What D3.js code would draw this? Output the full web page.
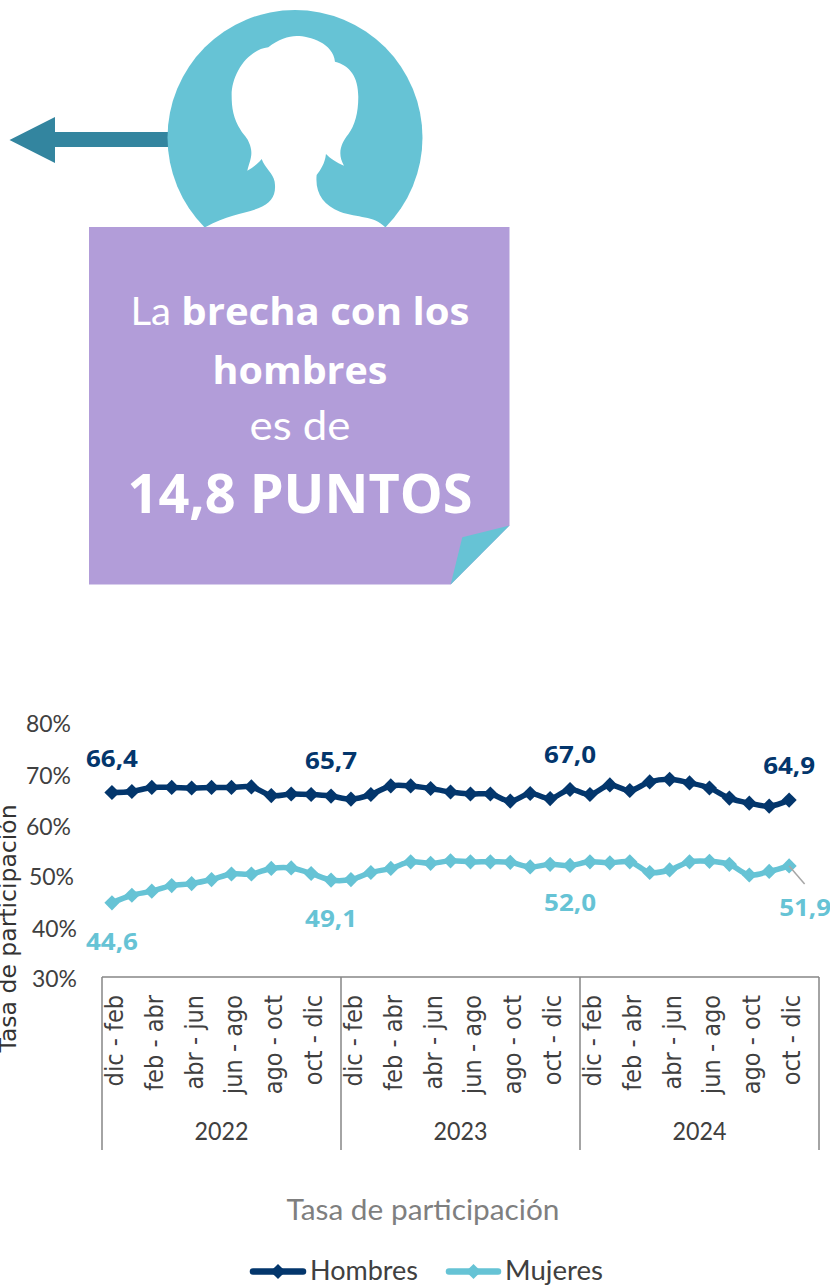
<!DOCTYPE html>
<html>
<head>
<meta charset="utf-8">
<script src="https://d3js.org/d3.v7.min.js"></script>
<style>
body { margin: 0; background: #fff; }
svg { display: block; }
text { font-family: Lato, sans-serif; }
</style>
</head>
<body>
<svg id="chart" width="830" height="1285"></svg>
<script>
var hombres = [66.4, 66.6, 67.4, 67.4, 67.3, 67.4, 67.4, 67.5, 65.8, 66.1, 66.0, 65.7, 65.1, 66.0, 67.7, 67.7, 67.2, 66.5, 66.1, 66.1, 64.7, 66.2, 65.2, 67.0, 66.0, 67.9, 66.8, 68.5, 69.0, 68.3, 67.3, 65.3, 64.3, 63.7, 64.9];
var mujeres = [44.6, 46.1, 46.9, 48.0, 48.4, 49.2, 50.3, 50.3, 51.4, 51.5, 50.4, 49.1, 49.2, 50.6, 51.4, 52.7, 52.4, 52.9, 52.7, 52.7, 52.6, 51.7, 52.2, 52.0, 52.7, 52.5, 52.7, 50.6, 51.1, 52.7, 52.8, 52.2, 50.1, 50.8, 51.9];
var periodos = ["dic - feb", "feb - abr", "abr - jun", "jun - ago", "ago - oct", "oct - dic"];
var years = ["2022", "2023", "2024"];
var yTicks = [30, 40, 50, 60, 70, 80];
var labelIdx = [0, 11, 23, 34];

var azul = "#03366c", celeste = "#66c3d5", gris = "#404040";

var svg = d3.select("#chart");

// ---- infografia de arriba ----
var info = svg.append("g");

info.append("path")
	.attr("fill", "#33859f")
	.attr("d", "M9.5,140 L55,117 L55,132 L172,132 L172,147 L55,147 L55,163 Z");

svg.append("clipPath").attr("id", "corte")
	.append("rect")
	.attr("x", 150).attr("y", 0)
	.attr("width", 300).attr("height", 227);
info.append("circle")
	.attr("cx", 295).attr("cy", 137.5).attr("r", 127.5)
	.attr("fill", celeste)
	.attr("clip-path", "url(#corte)");

// silueta, trazada sobre la imagen a 3x
info.append("path")
	.attr("transform", "scale(0.3333)")
	.attr("fill", "#fff")
	.attr("d", "M617,681 C680,645 730,642 775,625 C815,608 830,585 824,545 C820,520 795,505 785,477 C772,493 758,503 742,512 C750,480 760,465 750,435 C742,410 730,405 722,390 C700,355 695,325 695,285 C695,225 740,150 805,142 C835,118 865,108 890,108 C930,108 1000,130 1005,185 C1050,197 1075,230 1075,290 C1075,340 1065,375 1045,403 C1025,428 1010,460 1032,497 C1010,488 990,475 978,462 C975,490 962,510 950,525 C945,580 970,615 1020,635 C1075,655 1120,645 1155,681 Z");

info.append("path")
	.attr("fill", "#b29dd9")
	.attr("d", "M89,227 L509.5,227 L509.5,525.5 L450.7,584.5 L89,584.5 Z");
info.append("path")
	.attr("fill", celeste)
	.attr("d", "M509.5,525.5 L462.3,537.3 L450.7,584.5 Z");

function noteLine(y, size, length, parts) {
	var t = info.append("text")
		.attr("x", 300)
		.attr("y", y)
		.attr("text-anchor", "middle")
		.attr("font-size", size)
		.attr("fill", "#fff")
		.attr("textLength", length)
		.attr("lengthAdjust", "spacingAndGlyphs");
	parts.forEach(function(p) {
		t.append("tspan")
			.attr("font-weight", p[1])
			.style("font-family", p[1] == 700 ? "Open Sans" : "Lato")
			.text(p[0]);
	});
}
noteLine(325, 38, 339, [["La ", 400], ["brecha con los", 700]]);
noteLine(384, 38, 175, [["hombres", 700]]);
noteLine(440, 40, 101, [["es de", 400]]);
noteLine(513, 53, 345, [["14,8 PUNTOS", 700]]);

// ---- grafico ----
var x = d3.scaleLinear().domain([-0.5, 35.5]).range([102, 819]);
var y = d3.scaleLinear().domain([30, 80]).range([976.7, 723.7]);

var labelDx = { 30: 0, 40: 0, 50: -3, 60: -6, 70: -6, 80: -6 };
var labelDy = { 30: 2, 40: 2, 50: 1, 60: 2, 70: 1, 80: 0 };

var yAxis = svg.append("g")
	.attr("transform", "translate(77,0)")
	.call(d3.axisLeft(y).tickValues(yTicks).tickSize(0).tickPadding(0).tickFormat(function(d) { return d + "%"; }));
yAxis.select(".domain").remove();
yAxis.selectAll("text")
	.attr("font-size", 24)
	.attr("fill", gris)
	.style("font-family", "Lato")
	.attr("textLength", 45)
	.attr("lengthAdjust", "spacingAndGlyphs")
	.attr("x", function(d) { return labelDx[d]; })
	.attr("dy", function(d) { return 8 + labelDy[d]; });

var xTickVals = d3.range(0, 36, 2);
var xAxis = svg.append("g")
	.attr("transform", "translate(0,977)")
	.call(d3.axisBottom(x).tickValues(xTickVals).tickSize(0).tickFormat(function(d) { return periodos[(d / 2) % 6]; }));
xAxis.select(".domain").remove();
xAxis.selectAll("text")
	.attr("transform", "rotate(-90) scale(0.94,1)")
	.attr("text-anchor", "end")
	.attr("x", -19)
	.attr("y", 10.5)
	.attr("dy", 0)
	.attr("font-size", 24)
	.style("font-family", "DejaVu Sans")
	.attr("fill", gris);

// marco de los anios
var sep = d3.range(0, 4).map(function(i) { return x(-0.5 + 12 * i); });
svg.append("line")
	.attr("x1", sep[0]).attr("x2", sep[3])
	.attr("y1", 977).attr("y2", 977)
	.attr("stroke", "#868686").attr("stroke-width", 1.5);
svg.selectAll(".sep").data(sep).enter().append("line")
	.attr("class", "sep")
	.attr("x1", function(d) { return d; }).attr("x2", function(d) { return d; })
	.attr("y1", 977).attr("y2", 1150)
	.attr("stroke", "#868686").attr("stroke-width", 1.5);
svg.selectAll(".year").data(years).enter().append("text")
	.attr("class", "year")
	.attr("x", function(d, i) { return x(5.5 + 12 * i); })
	.attr("y", 1140)
	.attr("text-anchor", "middle")
	.attr("font-size", 25)
	.attr("fill", gris)
	.attr("textLength", 54)
	.attr("lengthAdjust", "spacingAndGlyphs")
	.text(function(d) { return d; });

var line = d3.line()
	.x(function(d, i) { return x(i); })
	.y(function(d) { return y(d); })
	.curve(d3.curveCatmullRom.alpha(0.5));
var diamond = d3.symbol(d3.symbolSquare, 115);

function drawSerie(data, color) {
	svg.append("path")
		.datum(data)
		.attr("fill", "none")
		.attr("stroke", color)
		.attr("stroke-width", 5.5)
		.attr("stroke-linejoin", "round")
		.attr("stroke-linecap", "round")
		.attr("d", line);
	svg.append("g").selectAll("path").data(data).enter().append("path")
		.attr("fill", color)
		.attr("d", diamond)
		.attr("transform", function(d, i) { return "translate(" + x(i) + "," + y(d) + ") rotate(45)"; });
}
drawSerie(hombres, azul);
drawSerie(mujeres, celeste);

// linea guia del ultimo dato
svg.append("line")
	.attr("x1", x(34)).attr("y1", y(51.9))
	.attr("x2", x(34) + 15.5).attr("y2", y(51.9) + 18)
	.attr("stroke", "#a6a6a6").attr("stroke-width", 1.5);

function fmt(v) { return v.toFixed(1).replace(".", ","); }

var dyHombres = [-26, -27, -26.5, -26.5];
var dxMujeres = [0, 0, 0, 16];
var dyMujeres = [47, 47, 46, 50];

function drawLabels(data, color, dx, dy) {
	svg.append("g").selectAll("text").data(labelIdx).enter().append("text")
		.attr("x", function(d, i) { return x(d) + dx[i]; })
		.attr("y", function(d, i) { return y(data[d]) + dy[i]; })
		.attr("text-anchor", "middle")
		.attr("font-size", 24)
		.attr("font-weight", 700)
		.style("font-family", "Open Sans")
		.attr("fill", color)
		.attr("textLength", 52)
		.attr("lengthAdjust", "spacingAndGlyphs")
		.text(function(d) { return fmt(data[d]); });
}
drawLabels(hombres, azul, [0, 0, 0, 0], dyHombres);
drawLabels(mujeres, celeste, dxMujeres, dyMujeres);

// titulo del eje y, cortado por el borde igual que el original
svg.append("text")
	.attr("transform", "translate(16,928.5) rotate(-90)")
	.attr("text-anchor", "middle")
	.style("font-family", "DejaVu Sans")
	.attr("font-size", 23.5)
	.attr("fill", "#333")
	.text("Tasa de participación");

svg.append("text")
	.attr("x", 423)
	.attr("y", 1220)
	.attr("text-anchor", "middle")
	.attr("font-size", 29)
	.attr("fill", "#7f7f7f")
	.attr("textLength", 273)
	.attr("lengthAdjust", "spacingAndGlyphs")
	.text("Tasa de participación");

// leyenda
var legendItems = [
	{ name: "Hombres", color: azul, x1: 250, x2: 306, tx: 310, tw: 108 },
	{ name: "Mujeres", color: celeste, x1: 446, x2: 501, tx: 505, tw: 98 }
];
var legend = svg.append("g").selectAll("g").data(legendItems).enter().append("g");
legend.append("line")
	.attr("x1", function(d) { return d.x1 + 3; })
	.attr("x2", function(d) { return d.x2 - 3; })
	.attr("y1", 1271.5).attr("y2", 1271.5)
	.attr("stroke", function(d) { return d.color; })
	.attr("stroke-width", 6.5)
	.attr("stroke-linecap", "round");
legend.append("path")
	.attr("fill", function(d) { return d.color; })
	.attr("d", diamond)
	.attr("transform", function(d) { return "translate(" + ((d.x1 + d.x2) / 2) + ",1271.5) rotate(45)"; });
legend.append("text")
	.attr("x", function(d) { return d.tx; })
	.attr("y", 1280)
	.attr("font-size", 26)
	.attr("fill", gris)
	.attr("textLength", function(d) { return d.tw; })
	.attr("lengthAdjust", "spacingAndGlyphs")
	.text(function(d) { return d.name; });
</script>
</body>
</html>
